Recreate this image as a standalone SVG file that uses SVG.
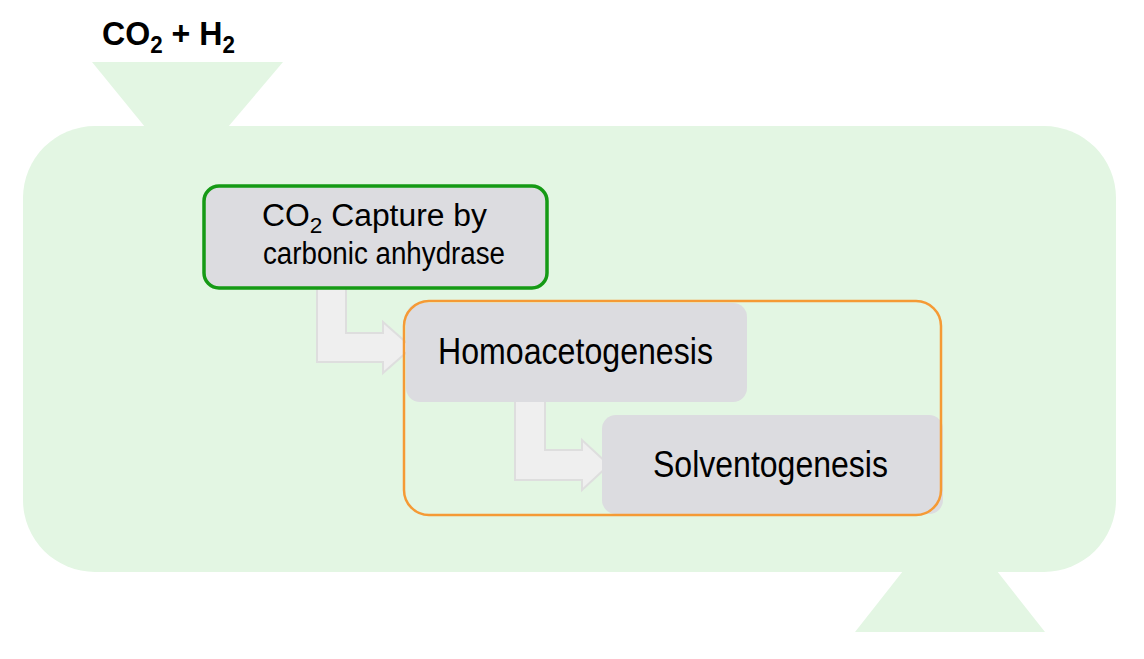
<svg xmlns="http://www.w3.org/2000/svg" width="1144" height="659" viewBox="0 0 1144 659">
<style>
.bg{fill:#e3f6e3}
.box{fill:#dcdce0}
.arrow{fill:#efefef;stroke:#dedede;stroke-width:2}
.t{font-family:"Liberation Sans",Arial,sans-serif;fill:#000}
</style>
<rect width="1144" height="659" fill="#ffffff"/>
<g id="reactor">
<polygon class="bg" points="92,62 283,62 228,127 145,127"/>
<rect class="bg" x="23" y="126" width="1093" height="446" rx="72" ry="72"/>
<polygon class="bg" points="903,571 997,571 1045,632 855,632"/>
</g>
<g id="input-label">
<text class="t" x="102" y="45" font-size="33" font-weight="bold" textLength="133" lengthAdjust="spacingAndGlyphs">CO<tspan font-size="23" dy="8">2</tspan><tspan dy="-8"> + H</tspan><tspan font-size="23" dy="8">2</tspan></text>
</g>
<g id="connectors">
<polygon class="arrow" points="317,287 346,287 346,333 383,333 383,322 412,347.5 383,373 383,362 317,362"/>
<polygon class="arrow" points="515,400 545,400 545,450 582,450 582,440 609,465 582,490 582,480 515,480"/>
</g>
<g id="co2-capture">
<rect class="box" x="204" y="186" width="343" height="102" rx="15" ry="15" stroke="#159a15" stroke-width="3.5"/>
<text class="t" x="262" y="226" font-size="31" textLength="225" lengthAdjust="spacingAndGlyphs">CO<tspan font-size="22" dy="7">2</tspan><tspan dy="-7"> Capture by</tspan></text>
<text class="t" x="263" y="264" font-size="31" textLength="242" lengthAdjust="spacingAndGlyphs">carbonic anhydrase</text>
</g>
<g id="homoacetogenesis">
<rect class="box" x="406" y="303" width="341" height="99" rx="14" ry="14"/>
<text class="t" x="438" y="364" font-size="37" textLength="275" lengthAdjust="spacingAndGlyphs">Homoacetogenesis</text>
</g>
<g id="solventogenesis">
<rect class="box" x="602" y="415" width="341" height="99" rx="14" ry="14"/>
<text class="t" x="653" y="477" font-size="37" textLength="235" lengthAdjust="spacingAndGlyphs">Solventogenesis</text>
</g>
<g id="bacteria-group">
<rect x="404" y="301" width="537" height="214" rx="25" ry="25" fill="none" stroke="#f59a35" stroke-width="2.5"/>
</g>
</svg>
